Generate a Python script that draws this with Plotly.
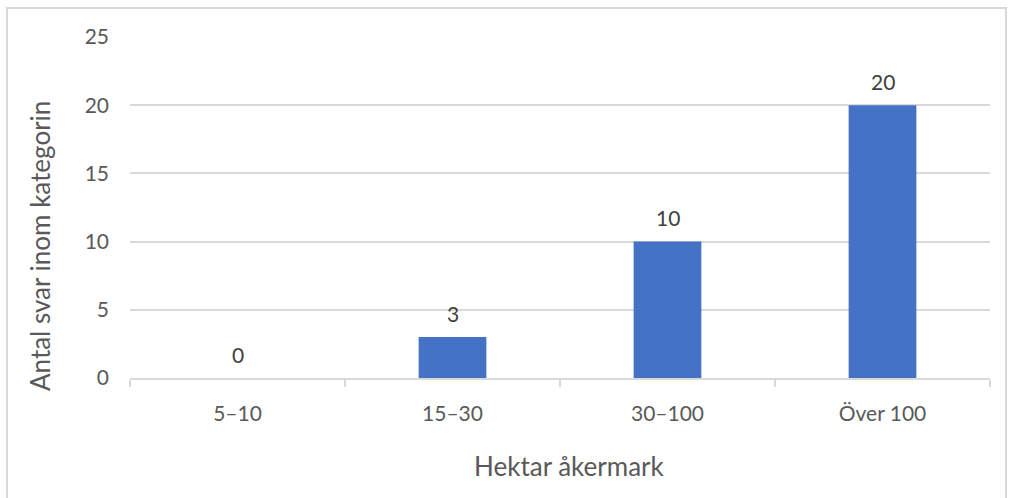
import plotly.graph_objects as go

categories = ["5–10", "15–30", "30–100", "Över 100"]
values = [0, 3, 10, 20]
y_ticks = [0, 5, 10, 15, 20, 25]

FONT = "Lato"
GRAY = "#595959"
GRID = "#d9d9d9"

fig = go.Figure()
fig.add_trace(go.Bar(
    x=categories, y=values,
    marker=dict(color="#4472c4", line=dict(width=0)),
    hoverinfo="x+y",
))

for c, v in zip(categories, values):
    fig.add_annotation(x=c, y=v, text=str(v), showarrow=False,
                       yanchor="middle", yshift=24,
                       font=dict(family=FONT, size=21, color="#404040"))

# axis titles
fig.add_annotation(xref="paper", yref="paper", x=(40 - 130) / 860, y=(378 - 246) / 341,
                   text="Antal svar inom kategorin", textangle=-90, showarrow=False,
                   xanchor="center", yanchor="middle",
                   font=dict(family=FONT, size=26, color=GRAY))
fig.add_annotation(xref="paper", yref="paper", x=(569 - 130) / 860, y=(378 - 466) / 341,
                   text="Hektar åkermark", showarrow=False,
                   xanchor="center", yanchor="middle",
                   font=dict(family=FONT, size=26, color=GRAY))

# chart border (cropped at right/bottom)
fig.add_shape(type="rect", xref="paper", yref="paper",
              x0=(7 - 130) / 860, x1=(1006 - 130) / 860,
              y0=(378 - 560) / 341, y1=(378 - 8) / 341,
              line=dict(color=GRID, width=2), fillcolor="rgba(0,0,0,0)", layer="below")

fig.update_layout(
    width=1010, height=498,
    margin=dict(l=130, r=20, t=37, b=120),
    paper_bgcolor="white", plot_bgcolor="white",
    bargap=0.685,
    showlegend=False,
    font=dict(family=FONT, color=GRAY),
    xaxis=dict(
        type="category", showgrid=False, showline=True, linecolor=GRID, linewidth=1.5,
        ticks="outside", tickson="boundaries", ticklen=7, tickcolor=GRID, tickwidth=1.5,
        tickfont=dict(family=FONT, size=21, color=GRAY), ticklabelstandoff=16,
        fixedrange=True,
    ),
    yaxis=dict(
        range=[0, 25], tickvals=y_ticks, showgrid=True, gridcolor=GRID, gridwidth=1.5,
        zeroline=False, showline=False, ticks="",
        tickfont=dict(family=FONT, size=21, color=GRAY), ticklabelstandoff=20,
        fixedrange=True,
    ),
)

fig.write_html("out.html")
